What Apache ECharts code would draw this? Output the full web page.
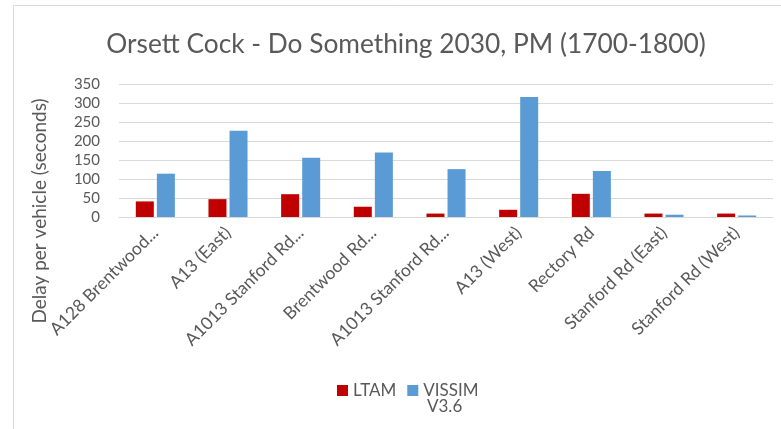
<!DOCTYPE html>
<html><head><meta charset="utf-8">
<script src="https://cdn.jsdelivr.net/npm/echarts@6/dist/echarts.min.js"></script>
<style>html,body{margin:0;padding:0;background:#fff}#c{width:781px;height:429px}</style>
</head><body><div id="c"></div>
<script>
var titleText = 'Orsett Cock - Do Something 2030, PM (1700-1800)';
var yAxisTitle = 'Delay per vehicle (seconds)';
var categories = ['A128 Brentwood...', 'A13 (East)', 'A1013 Stanford Rd...', 'Brentwood Rd...', 'A1013 Stanford Rd...', 'A13 (West)', 'Rectory Rd', 'Stanford Rd (East)', 'Stanford Rd (West)'];
var seriesNames = ['LTAM', 'VISSIM V3.6'];
var ltam = [41, 47, 60, 27, 9, 19, 61, 9, 9];
var vissim = [114, 227, 156, 170, 126, 316, 121, 6, 4];
var yTicks = [0, 350, 50];

var chart = echarts.init(document.getElementById('c'), null, {renderer: 'canvas'});
var font = 'Lato, "Open Sans", sans-serif';
var grey = '#595959';
chart.setOption({
  animation: false,
  textStyle: {fontFamily: font},
  title: {text: titleText, left: 401, top: 27, textAlign: 'center',
    textStyle: {fontFamily: font, fontSize: 26.3, fontWeight: 'normal', color: grey}},
  graphic: [
    {type: 'rect', shape: {x: 13.5, y: 5.5, width: 800, height: 500}, style: {fill: 'none', stroke: '#D9D9D9', lineWidth: 1}, silent: true},
    {type: 'text', x: 40, y: 211, rotation: Math.PI / 2, silent: true,
     style: {text: yAxisTitle, font: '19px ' + font, fill: grey, textAlign: 'center', textVerticalAlign: 'middle'}},
    {type: 'text', left: 427, top: 398, style: {text: seriesNames[1].split(' ')[1], font: '17px ' + font, fill: grey}}
  ],
  legend: {top: 377, left: 332, itemWidth: 11, itemHeight: 11, itemGap: 11,
    icon: 'rect',
    formatter: function (n) { return n.split(' ')[0]; },
    textStyle: {fontFamily: font, fontSize: 17, color: grey},
    data: seriesNames},
  grid: {left: 119, right: 8, top: 84, bottom: 212, containLabel: false},
  xAxis: {type: 'category', data: categories,
    axisLine: {lineStyle: {color: '#D9D9D9', width: 1}},
    axisTick: {show: false},
    axisLabel: {rotate: 45, interval: 0, color: grey, fontSize: 17.5, margin: 13, fontFamily: font}},
  yAxis: {type: 'value', min: yTicks[0], max: yTicks[1], interval: yTicks[2],
    axisLine: {show: false}, axisTick: {show: false},
    axisLabel: {color: grey, fontSize: 15, margin: 19, fontFamily: font},
    splitLine: {lineStyle: {color: '#D9D9D9', width: 1}}},
  series: [
    {name: seriesNames[0], type: 'bar', data: ltam, barWidth: 18, barGap: '17%',
     itemStyle: {color: '#C00000'}},
    {name: seriesNames[1], type: 'bar', data: vissim, barWidth: 18,
     itemStyle: {color: '#5B9BD5'}}
  ]
});
</script></body></html>
